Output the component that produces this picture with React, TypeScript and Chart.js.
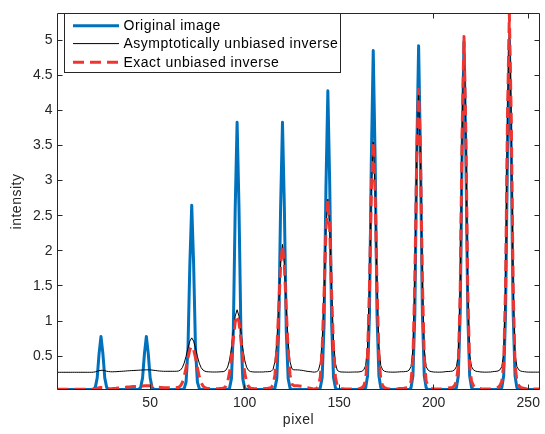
import React, { useEffect, useRef } from "react";
import { Chart, registerables } from "chart.js";

Chart.register(...registerables);

// pixel index (x axis)
const pixel = Array.from({ length: 256 }, (_, i) => i + 1);

const originalImage = [
  0.025, 0.025, 0.025, 0.025, 0.025, 0.025, 0.025, 0.025, 0.025, 0.025, 0.025, 0.025, 0.025, 0.025, 0.025, 0.025,
  0.025, 0.025, 0.025, 0.028, 0.055, 0.19, 0.54, 0.78, 0.54, 0.19, 0.055, 0.028, 0.025, 0.025, 0.025, 0.025,
  0.025, 0.025, 0.025, 0.025, 0.025, 0.025, 0.025, 0.025, 0.025, 0.025, 0.025, 0.028, 0.055, 0.19, 0.54, 0.78,
  0.54, 0.19, 0.055, 0.028, 0.025, 0.025, 0.025, 0.025, 0.025, 0.025, 0.025, 0.025, 0.025, 0.025, 0.025, 0.025,
  0.025, 0.025, 0.025, 0.04, 0.13, 0.6, 1.81, 2.65, 1.81, 0.6, 0.13, 0.04, 0.025, 0.025, 0.025, 0.025,
  0.025, 0.025, 0.025, 0.025, 0.025, 0.025, 0.025, 0.025, 0.025, 0.025, 0.025, 0.045, 0.18, 0.86, 2.61, 3.83,
  2.61, 0.86, 0.18, 0.045, 0.025, 0.025, 0.025, 0.025, 0.025, 0.025, 0.025, 0.025, 0.025, 0.025, 0.025, 0.025,
  0.025, 0.025, 0.025, 0.045, 0.18, 0.86, 2.61, 3.83, 2.61, 0.86, 0.18, 0.045, 0.025, 0.025, 0.025, 0.025,
  0.025, 0.025, 0.025, 0.025, 0.025, 0.025, 0.025, 0.025, 0.025, 0.025, 0.025, 0.05, 0.195, 0.96, 2.92, 4.28,
  2.92, 0.96, 0.195, 0.05, 0.025, 0.025, 0.025, 0.025, 0.025, 0.025, 0.025, 0.025, 0.025, 0.025, 0.025, 0.025,
  0.025, 0.025, 0.025, 0.05, 0.22, 1.09, 3.31, 4.85, 3.31, 1.09, 0.22, 0.05, 0.025, 0.025, 0.025, 0.025,
  0.025, 0.025, 0.025, 0.025, 0.025, 0.025, 0.025, 0.025, 0.025, 0.025, 0.025, 0.05, 0.22, 1.1, 3.35, 4.92,
  3.35, 1.1, 0.22, 0.05, 0.025, 0.025, 0.025, 0.025, 0.025, 0.025, 0.025, 0.025, 0.025, 0.025, 0.025, 0.025,
  0.025, 0.025, 0.025, 0.05, 0.22, 1.11, 3.39, 4.98, 3.39, 1.11, 0.22, 0.05, 0.025, 0.025, 0.025, 0.025,
  0.025, 0.025, 0.025, 0.025, 0.025, 0.025, 0.025, 0.025, 0.025, 0.025, 0.025, 0.05, 0.22, 1.12, 3.4, 5.0,
  3.4, 1.12, 0.22, 0.05, 0.025, 0.025, 0.025, 0.025, 0.025, 0.025, 0.025, 0.025, 0.025, 0.025, 0.025, 0.025,
];

const asymptoticInverse = [
  0.27, 0.27, 0.27, 0.27, 0.27, 0.27, 0.27, 0.27, 0.27, 0.27, 0.27, 0.27, 0.27, 0.27, 0.27, 0.27,
  0.27, 0.27, 0.27, 0.272, 0.276, 0.285, 0.292, 0.298, 0.298, 0.292, 0.285, 0.28, 0.278, 0.277, 0.278, 0.279,
  0.281, 0.283, 0.284, 0.286, 0.288, 0.291, 0.292, 0.294, 0.295, 0.297, 0.298, 0.3, 0.301, 0.302, 0.304, 0.305,
  0.305, 0.304, 0.302, 0.298, 0.295, 0.291, 0.288, 0.286, 0.284, 0.284, 0.284, 0.284, 0.284, 0.284, 0.284, 0.285,
  0.288, 0.301, 0.335, 0.4, 0.497, 0.616, 0.714, 0.76, 0.714, 0.616, 0.497, 0.4, 0.335, 0.301, 0.285, 0.278,
  0.277, 0.275, 0.274, 0.274, 0.274, 0.275, 0.277, 0.278, 0.281, 0.298, 0.344, 0.445, 0.62, 0.855, 1.07, 1.16,
  1.07, 0.855, 0.62, 0.445, 0.344, 0.298, 0.281, 0.277, 0.274, 0.274, 0.274, 0.274, 0.274, 0.275, 0.278, 0.278,
  0.281, 0.284, 0.311, 0.419, 0.704, 1.228, 1.815, 2.09, 1.815, 1.228, 0.704, 0.419, 0.32, 0.305, 0.305, 0.304,
  0.302, 0.298, 0.295, 0.289, 0.284, 0.281, 0.278, 0.274, 0.273, 0.278, 0.297, 0.397, 0.721, 1.43, 2.315, 2.735,
  2.315, 1.43, 0.721, 0.397, 0.297, 0.281, 0.274, 0.274, 0.273, 0.272, 0.272, 0.272, 0.273, 0.274, 0.274, 0.274,
  0.278, 0.284, 0.305, 0.365, 0.644, 1.515, 2.85, 3.55, 2.85, 1.515, 0.644, 0.365, 0.305, 0.284, 0.278, 0.274,
  0.273, 0.272, 0.272, 0.273, 0.274, 0.277, 0.278, 0.278, 0.281, 0.284, 0.302, 0.35, 0.602, 1.6, 3.32, 4.25,
  3.32, 1.6, 0.602, 0.35, 0.302, 0.284, 0.278, 0.274, 0.273, 0.272, 0.272, 0.273, 0.274, 0.278, 0.281, 0.281,
  0.284, 0.288, 0.305, 0.35, 0.52, 1.46, 3.64, 5.0, 3.64, 1.46, 0.52, 0.35, 0.305, 0.288, 0.281, 0.278,
  0.274, 0.273, 0.272, 0.272, 0.273, 0.274, 0.278, 0.281, 0.284, 0.288, 0.305, 0.35, 0.537, 1.535, 3.86, 5.32,
  3.86, 1.535, 0.537, 0.35, 0.305, 0.288, 0.281, 0.278, 0.274, 0.273, 0.272, 0.272, 0.272, 0.272, 0.272, 0.272,
];

const exactInverse = [
  0.03, 0.03, 0.03, 0.03, 0.03, 0.03, 0.03, 0.03, 0.03, 0.03, 0.03, 0.03, 0.03, 0.03, 0.03, 0.03,
  0.03, 0.03, 0.03, 0.03, 0.032, 0.04, 0.05, 0.055, 0.055, 0.05, 0.042, 0.036, 0.037, 0.038, 0.04, 0.042,
  0.045, 0.048, 0.05, 0.053, 0.056, 0.06, 0.062, 0.064, 0.066, 0.068, 0.07, 0.072, 0.074, 0.076, 0.078, 0.08,
  0.08, 0.078, 0.075, 0.07, 0.065, 0.06, 0.056, 0.053, 0.05, 0.05, 0.05, 0.05, 0.05, 0.05, 0.05, 0.052,
  0.055, 0.074, 0.121, 0.207, 0.332, 0.476, 0.594, 0.64, 0.594, 0.476, 0.332, 0.207, 0.121, 0.074, 0.052, 0.04,
  0.038, 0.036, 0.035, 0.035, 0.035, 0.036, 0.038, 0.04, 0.045, 0.07, 0.133, 0.265, 0.481, 0.75, 0.986, 1.08,
  0.986, 0.75, 0.481, 0.265, 0.133, 0.07, 0.045, 0.038, 0.035, 0.035, 0.035, 0.035, 0.035, 0.036, 0.04, 0.04,
  0.045, 0.05, 0.088, 0.232, 0.582, 1.168, 1.793, 2.07, 1.793, 1.168, 0.582, 0.232, 0.1, 0.08, 0.08, 0.078,
  0.075, 0.07, 0.065, 0.058, 0.05, 0.045, 0.04, 0.035, 0.033, 0.04, 0.068, 0.203, 0.603, 1.386, 2.304, 2.73,
  2.304, 1.386, 0.603, 0.203, 0.068, 0.045, 0.035, 0.035, 0.033, 0.032, 0.032, 0.032, 0.033, 0.035, 0.035, 0.035,
  0.04, 0.05, 0.08, 0.16, 0.51, 1.48, 2.85, 3.55, 2.85, 1.48, 0.51, 0.16, 0.08, 0.05, 0.04, 0.035,
  0.033, 0.032, 0.032, 0.033, 0.035, 0.038, 0.04, 0.04, 0.045, 0.05, 0.075, 0.14, 0.46, 1.57, 3.34, 4.3,
  3.34, 1.57, 0.46, 0.14, 0.075, 0.05, 0.04, 0.035, 0.033, 0.032, 0.032, 0.033, 0.035, 0.04, 0.045, 0.045,
  0.05, 0.055, 0.08, 0.14, 0.36, 1.42, 3.67, 5.05, 3.67, 1.42, 0.36, 0.14, 0.08, 0.055, 0.045, 0.04,
  0.035, 0.033, 0.032, 0.032, 0.033, 0.035, 0.04, 0.045, 0.05, 0.055, 0.08, 0.14, 0.38, 1.5, 3.9, 5.38,
  3.9, 1.5, 0.38, 0.14, 0.08, 0.055, 0.045, 0.04, 0.035, 0.033, 0.032, 0.032, 0.032, 0.032, 0.032, 0.032,
];

const seriesLabels = ["Original image", "Asymptotically unbiased inverse", "Exact unbiased inverse"];
const xTicks = [50, 100, 150, 200, 250];
const yTicks = [0.5, 1, 1.5, 2, 2.5, 3, 3.5, 4, 4.5, 5];
const xLimits = [1, 256];
const yLimits = [0.025, 5.38];
const xTitle = "pixel";
const yTitle = "intensity";

const AXIS = "#262626";
const BLUE = "#0072BD";
const BLACK = "#000000";
const RED = "#EE3530";
const FONT = "'Liberation Sans', Arial, Helvetica, sans-serif";
const RED_DASH = [11, 6];

const framePlugin = {
  id: "matlabFrame",
  afterDatasetsDraw(chart: any) {
    const { ctx, chartArea, scales } = chart;
    const L = Math.floor(chartArea.left) + 0.5;
    const R = Math.floor(chartArea.right) + 0.5;
    const T = Math.floor(chartArea.top) + 0.5;
    const B = Math.floor(chartArea.bottom) + 0.5;
    ctx.save();
    ctx.strokeStyle = AXIS;
    ctx.lineWidth = 1;
    ctx.beginPath();
    ctx.rect(L, T, R - L, B - T);
    const tl = 5;
    xTicks.forEach((v) => {
      const px = Math.floor(scales.x.getPixelForValue(v)) + 0.5;
      ctx.moveTo(px, B);
      ctx.lineTo(px, B - tl);
      ctx.moveTo(px, T);
      ctx.lineTo(px, T + tl);
    });
    yTicks.forEach((v) => {
      const py = Math.floor(scales.y.getPixelForValue(v)) + 0.5;
      ctx.moveTo(L, py);
      ctx.lineTo(L + tl, py);
      ctx.moveTo(R, py);
      ctx.lineTo(R - tl, py);
    });
    ctx.stroke();

    // axis titles
    ctx.font = `14px ${FONT}`;
    ctx.fillStyle = AXIS;
    ctx.textAlign = "center";
    ctx.textBaseline = "middle";
    (ctx as any).letterSpacing = "0.5px";
    ctx.fillText(xTitle, (L + R) / 2, 420);
    ctx.save();
    ctx.translate(17, (T + B) / 2);
    ctx.rotate(-Math.PI / 2);
    ctx.fillText(yTitle, 0, 0);
    ctx.restore();

    // legend
    const bx = 64.5, by = 13.5, bw = 276, bh = 59;
    ctx.fillStyle = "#ffffff";
    ctx.fillRect(bx, by, bw, bh);
    ctx.strokeStyle = AXIS;
    ctx.lineWidth = 1;
    ctx.strokeRect(bx, by, bw, bh);
    const rows = [25.7, 43.6, 62.2];
    const styles = [
      { color: BLUE, width: 3, dash: [] as number[] },
      { color: BLACK, width: 1, dash: [] as number[] },
      { color: RED, width: 3, dash: RED_DASH },
    ];
    rows.forEach((y, i) => {
      const s = styles[i];
      ctx.beginPath();
      ctx.strokeStyle = s.color;
      ctx.lineWidth = s.width;
      ctx.setLineDash(s.dash);
      ctx.lineCap = "butt";
      ctx.moveTo(73, y);
      ctx.lineTo(119, y);
      ctx.stroke();
      ctx.setLineDash([]);
      ctx.fillStyle = "#000000";
      ctx.font = `14px ${FONT}`;
      ctx.textBaseline = "middle";
      ctx.textAlign = "left";
      ctx.fillText(seriesLabels[i], 123.5, y + 0.5);
    });
    (ctx as any).letterSpacing = "0px";
    ctx.restore();
  },
};

export default function App() {
  const ref = useRef<HTMLCanvasElement | null>(null);
  useEffect(() => {
    if (!ref.current) return;
    const tickFont = { family: FONT, size: 14 };
    const chart = new Chart(ref.current, {
      type: "line",
      data: {
        datasets: [
          {
            label: seriesLabels[2],
            data: pixel.map((x, i) => ({ x, y: exactInverse[i] })),
            borderColor: RED,
            borderWidth: 3,
            borderDash: RED_DASH,
            borderCapStyle: "butt",
            borderJoinStyle: "round",
            pointRadius: 0,
            tension: 0,
            fill: false,
            order: 1,
            clip: 0,
          },
          {
            label: seriesLabels[1],
            data: pixel.map((x, i) => ({ x, y: asymptoticInverse[i] })),
            borderColor: BLACK,
            borderWidth: 1,
            pointRadius: 0,
            tension: 0,
            fill: false,
            order: 2,
            clip: 0,
          },
          {
            label: seriesLabels[0],
            data: pixel.map((x, i) => ({ x, y: originalImage[i] })),
            borderColor: BLUE,
            borderWidth: 3,
            borderJoinStyle: "round",
            borderCapStyle: "round",
            pointRadius: 0,
            tension: 0,
            fill: false,
            order: 3,
            clip: 0,
          },
        ] as any,
      },
      options: {
        animation: false,
        responsive: false,
        maintainAspectRatio: false,
        events: [],
        layout: { padding: { left: 0, top: 5.5, right: 2.5, bottom: 0 } },
        plugins: { legend: { display: false }, tooltip: { enabled: false } },
        scales: {
          x: {
            type: "linear",
            min: xLimits[0],
            max: xLimits[1],
            afterBuildTicks: (s: any) => {
              s.ticks = xTicks.map((v) => ({ value: v }));
            },
            afterFit: (s: any) => {
              s.height = 44.5;
            },
            grid: { display: false, drawTicks: false },
            border: { display: false },
            ticks: {
              padding: 5,
              color: AXIS,
              font: tickFont,
              maxRotation: 0,
              autoSkip: false,
              callback: (v: any) => String(v),
            },
          },
          y: {
            type: "linear",
            min: yLimits[0],
            max: yLimits[1],
            afterBuildTicks: (s: any) => {
              s.ticks = yTicks.map((v) => ({ value: v }));
            },
            afterFit: (s: any) => {
              s.width = 57.5;
            },
            grid: { display: false, drawTicks: false },
            border: { display: false },
            ticks: {
              padding: 5,
              color: AXIS,
              font: tickFont,
              autoSkip: false,
              callback: (v: any) => String(v),
            },
          },
        },
      } as any,
      plugins: [framePlugin],
    });
    return () => chart.destroy();
  }, []);
  return (
    <div style={{ position: "absolute", left: 0, top: 0, width: 545, height: 434, background: "#fff" }}>
      <canvas ref={ref} width={545} height={434} style={{ width: 545, height: 434, display: "block" }} />
    </div>
  );
}
